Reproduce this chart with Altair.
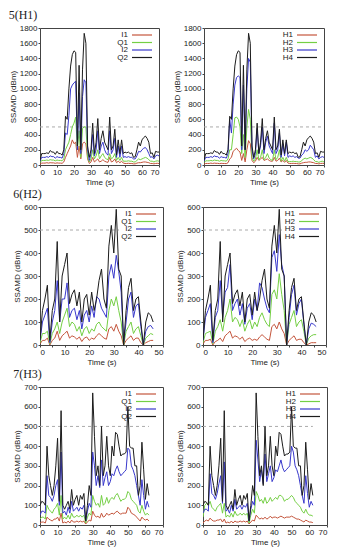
import altair as alt
import pandas as pd

# ---------------- data ----------------
t1 = list(range(0, 71))
names_l = ["I1", "Q1", "I2", "Q2"]
names_r = ["H1", "H2", "H3", "H4"]

I1_1 = [10,25,25,25,30,25,30,28,28,22,28,25,25,22,40,100,150,200,250,330,280,300,100,250,80,280,300,280,80,20,40,100,40,60,80,40,50,70,50,40,35,100,40,50,80,30,50,30,50,25,20,20,22,20,20,15,15,25,30,30,35,40,40,35,30,20,20,15,20,22,20]
Q1_1 = [30,60,60,60,65,60,70,65,65,55,65,60,60,55,80,200,250,300,400,500,550,630,200,450,100,480,500,500,100,40,80,200,80,120,200,80,120,150,100,80,70,150,80,100,150,60,100,60,100,50,50,50,55,50,50,40,40,60,80,70,80,90,100,90,70,50,50,40,50,55,50]
I2_1 = [50,100,100,100,110,100,120,110,110,90,110,100,100,90,150,420,400,650,1000,1050,1080,1100,200,950,150,900,1120,1080,200,60,150,400,120,200,450,150,250,300,200,150,130,450,150,200,350,100,250,100,250,100,110,100,110,100,100,80,80,120,180,170,200,220,230,200,150,100,110,80,120,130,120]
Q2_1 = [60,150,150,150,160,150,190,170,170,140,180,150,150,130,200,640,600,1000,1300,1450,1500,1480,250,1310,200,1250,1730,1600,250,100,200,550,150,300,610,200,350,450,300,250,200,630,200,250,470,130,330,150,330,150,170,160,170,150,160,100,110,200,300,250,330,360,380,350,300,150,160,100,180,170,170]

H1_1 = [10,20,20,20,25,20,25,22,22,18,22,20,20,18,30,80,100,180,200,220,190,170,60,150,40,200,320,280,60,30,50,100,60,80,100,60,70,80,60,50,50,100,50,60,90,40,60,35,60,25,20,20,22,20,20,15,15,25,30,35,35,40,40,35,30,20,20,15,20,22,20]
H2_1 = [30,55,55,55,60,55,65,60,60,50,60,55,55,50,80,200,200,400,620,630,600,500,150,400,100,500,730,600,100,50,80,200,70,100,200,70,100,150,90,70,60,200,70,100,200,50,100,50,100,45,45,45,50,45,45,40,40,55,80,90,80,90,100,90,70,45,45,35,45,50,40]
H3_1 = [50,100,100,100,110,100,120,110,110,90,110,100,100,90,150,600,420,800,1050,1150,1170,1150,200,1050,200,1000,1400,1350,200,80,150,480,150,250,500,150,300,380,250,200,150,550,150,200,420,100,280,120,300,100,120,110,120,100,110,90,90,130,150,200,180,200,260,230,200,100,120,80,100,110,100]
H4_1 = [60,150,150,150,160,150,190,170,170,140,180,150,150,130,200,640,600,1000,1300,1450,1500,1480,250,1310,200,1250,1730,1600,250,100,200,550,150,300,610,200,350,450,300,250,200,630,200,250,470,130,330,150,330,150,170,160,170,150,160,100,110,200,300,250,330,360,380,350,300,150,160,100,180,170,170]

t2 = list(range(0, 47))
I1_2 = [5,20,20,30,0,20,30,60,20,40,50,60,30,40,35,25,35,15,30,35,20,30,25,40,50,40,30,25,70,80,60,90,60,40,0,20,30,40,20,30,30,10,0,10,15,20,20]
Q1_2 = [10,50,50,60,5,50,70,100,50,100,130,160,80,100,90,60,80,40,70,80,50,70,60,90,100,80,70,60,150,200,170,210,150,100,0,60,80,100,50,70,80,40,0,30,40,50,45]
I2_2 = [20,100,130,160,10,100,150,280,100,200,200,270,120,150,160,110,150,70,130,150,100,170,120,210,200,160,140,120,300,350,290,390,320,230,10,100,200,230,120,170,180,80,0,60,80,85,70]
Q2_2 = [20,150,200,260,20,150,200,450,100,300,350,400,180,220,240,170,230,100,200,220,130,230,150,200,280,330,200,160,430,520,400,590,330,300,0,150,250,290,150,200,210,100,0,100,140,130,100]

H1_2 = [5,20,20,25,0,15,20,30,15,40,50,60,30,40,35,25,35,15,25,30,20,25,20,35,45,35,25,20,80,90,70,100,70,50,0,20,30,40,20,25,25,10,0,5,10,10,10]
H2_2 = [10,50,55,60,5,60,80,110,60,120,150,200,100,120,110,80,110,60,90,110,70,100,80,120,140,110,90,80,220,240,200,310,220,150,0,90,120,150,80,100,110,60,0,30,40,45,45]
H3_2 = [20,120,150,180,10,120,150,280,120,230,250,350,150,180,200,130,180,90,160,180,110,200,150,270,250,200,160,140,380,410,320,480,350,300,0,120,220,260,130,180,200,90,0,70,95,90,80]
H4_2 = [20,150,200,260,20,150,200,450,100,300,350,400,180,220,240,170,230,100,200,220,130,230,150,200,280,330,200,160,430,520,400,590,330,300,0,150,250,290,150,200,210,100,0,100,140,130,100]

t3 = list(range(0, 63))
I1_3 = [10,15,15,10,40,30,25,20,30,30,40,20,60,10,15,10,20,10,25,15,15,20,15,20,15,20,5,15,25,20,70,50,40,45,35,60,40,45,60,50,55,60,55,65,70,60,55,60,60,60,90,80,60,55,50,40,30,20,40,30,25,30,20]
Q1_3 = [30,40,40,30,100,80,70,60,80,90,110,50,150,30,40,30,50,30,60,40,40,50,40,50,40,50,10,40,60,50,150,120,100,110,90,150,100,110,140,110,130,140,130,150,160,140,120,130,130,140,170,160,130,120,110,100,70,60,100,70,50,60,50]
I2_3 = [50,70,70,60,250,150,140,120,150,200,230,100,370,60,70,50,90,60,120,70,80,90,70,90,80,100,20,70,110,90,370,300,200,250,190,330,200,240,270,200,220,260,250,280,300,270,250,260,270,280,390,380,300,280,250,200,150,100,230,150,80,120,90]
Q2_3 = [100,120,115,100,400,250,200,150,200,300,440,120,580,100,80,100,120,80,180,100,130,150,100,150,130,160,20,100,200,150,670,450,250,300,200,500,250,300,450,300,250,400,350,470,460,400,350,360,360,370,600,400,390,390,300,300,150,200,420,280,130,210,150]

H1_3 = [10,20,25,20,35,25,20,20,25,25,30,15,30,10,15,10,20,10,20,15,15,20,15,20,15,20,5,15,25,20,50,40,30,35,30,40,30,35,45,35,40,40,35,40,45,40,35,40,40,40,45,40,35,30,30,25,20,15,25,20,15,15,12]
H2_3 = [40,100,110,100,120,90,80,70,90,100,110,60,110,40,50,40,60,40,70,50,50,60,50,60,50,60,10,50,80,60,170,150,120,130,110,140,110,120,140,120,130,140,130,150,150,140,120,130,130,140,150,140,120,110,100,90,70,60,80,60,50,50,45]
H3_3 = [60,80,80,70,260,160,150,130,160,210,250,110,320,70,80,60,100,70,130,80,90,100,80,100,90,110,20,80,120,100,430,330,220,280,210,360,220,260,300,220,240,280,270,300,330,290,270,280,290,300,400,370,300,280,250,200,150,110,250,160,90,120,100]
H4_3 = [100,120,115,100,400,250,200,150,200,300,440,120,580,100,80,100,120,80,180,100,130,150,100,150,130,160,20,100,200,150,670,450,250,300,200,500,250,300,450,300,250,400,350,470,460,400,350,360,360,370,600,400,390,390,300,300,150,200,420,280,130,210,150]

row_titles = ["5(H1)", "6(H2)", "7(H3)"]
threshold = 500

# ---------------- styling ----------------
FONT = "Liberation Sans"
COLORS = ["#c4553c", "#74cf44", "#3838cc", "#1c1c1c"]


def make_df(t, names, series):
    rows = []
    for n, s in zip(names, series):
        for ti, v in zip(t, s):
            rows.append({"t": ti, "v": v, "s": n})
    return pd.DataFrame(rows)


def panel(t, names, series, xmax, xstep, ymax, ystep, w, h):
    df = make_df(t, names, series)
    cscale = alt.Scale(domain=names, range=COLORS)
    x = alt.X("t:Q", scale=alt.Scale(domain=[0, xmax], nice=False),
              axis=alt.Axis(values=list(range(0, xmax + 1, xstep)), title="Time (s)", format="d"))
    y = alt.Y("v:Q", scale=alt.Scale(domain=[0, ymax], nice=False),
              axis=alt.Axis(values=list(range(0, ymax + 1, ystep)), title="SSAMD (dBm)", format="d"))
    lines = alt.Chart(df).mark_line(strokeWidth=1, clip=True).encode(
        x=x, y=y, color=alt.Color("s:N", scale=cscale, legend=None))
    # dashed threshold across the recorded time span
    rule = alt.Chart(pd.DataFrame({"v": [threshold], "t": [min(t)], "t2": [max(t)]})).mark_rule(
        color="#aaaaaa", strokeDash=[3, 3], strokeWidth=1).encode(y=y, x=x, x2="t2:Q")

    # opaque gnuplot-style key box
    keybg = alt.Chart(pd.DataFrame({"k": [0]})).mark_rect(color="white").encode(
        x=alt.value(w - 44), x2=alt.value(w - 4), y=alt.value(2), y2=alt.value(33))
    leg = alt.Chart(pd.DataFrame({"s": names, "i": list(range(len(names)))})).transform_calculate(
        py="7 + datum.i * 7.5")
    ly = alt.Y("py:Q", scale=None, axis=None)
    leg_text = leg.mark_text(align="right", baseline="middle", font=FONT, fontSize=8,
                             color="#222").encode(x=alt.value(w - 31), y=ly, text="s:N")
    leg_line = leg.mark_rule(strokeWidth=1.2).encode(
        x=alt.value(w - 27), x2=alt.value(w - 7), y=ly,
        color=alt.Color("s:N", scale=cscale, legend=None))
    return alt.layer(rule, keybg, leg_text, leg_line, lines).properties(width=w, height=h)


def row(title, left, right):
    return alt.hconcat(left, right, spacing=12).resolve_scale(color="independent").properties(
        title=alt.TitleParams(title, anchor="start", font="Liberation Serif", fontSize=12,
                              fontWeight="normal", color="#222", offset=2))


r1 = row(row_titles[0],
         panel(t1, names_l, [I1_1, Q1_1, I2_1, Q2_1], 70, 10, 1800, 200, 119, 137),
         panel(t1, names_r, [H1_1, H2_1, H3_1, H4_1], 70, 10, 1800, 200, 120, 137))
r2 = row(row_titles[1],
         panel(t2, names_l, [I1_2, Q1_2, I2_2, Q2_2], 50, 5, 600, 100, 123, 138),
         panel(t2, names_r, [H1_2, H2_2, H3_2, H4_2], 50, 5, 600, 100, 123, 138))
r3 = row(row_titles[2],
         panel(t3, names_l, [I1_3, Q1_3, I2_3, Q2_3], 70, 10, 700, 100, 123, 138),
         panel(t3, names_r, [H1_3, H2_3, H3_3, H4_3], 70, 10, 700, 100, 124, 138))

chart = alt.vconcat(r1, r2, r3, spacing=0).resolve_scale(color="independent").properties(
    padding=0
).configure_view(stroke="#444", strokeWidth=1).configure_axis(
    labelFont=FONT, labelFontSize=8, labelColor="#222", titleFont=FONT, titleFontSize=8,
    titleFontWeight="normal", titleColor="#222", grid=False, domain=False,
    tickSize=2, tickColor="#444", labelPadding=1, titlePadding=2
)

chart.save("out.html", embed_options={"renderer": "svg", "actions": False})
